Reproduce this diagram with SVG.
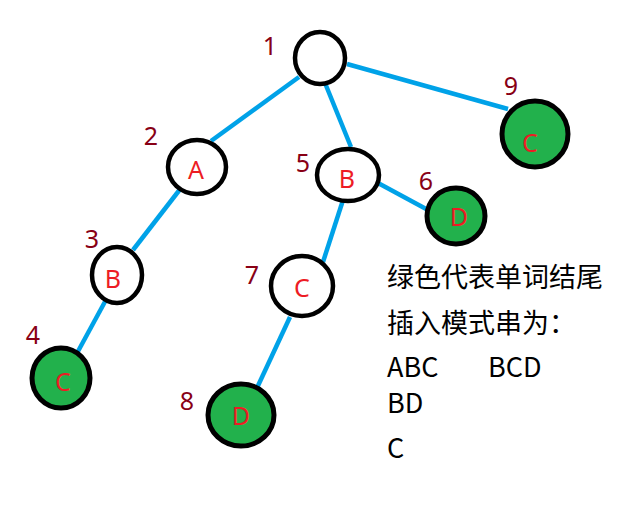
<svg xmlns="http://www.w3.org/2000/svg" width="618" height="507" viewBox="0 0 618 507">
<style>
.edge{stroke:#00A2E8;stroke-width:4.5;stroke-linecap:butt;fill:none}
.n{fill:#fff;stroke:#000;stroke-width:4.5}
.g{fill:#22B14C;stroke:#000;stroke-width:5}
.lt{font-family:"Noto Sans","Noto Sans CJK SC",sans-serif;font-size:25px;fill:#ED1C24;text-anchor:middle}
.num{font-family:"Noto Sans","Noto Sans CJK SC",sans-serif;font-size:25px;fill:#880015;text-anchor:middle}
.txt{font-family:"Noto Sans CJK SC","Noto Sans",sans-serif;font-size:27px;fill:#000}
</style>
<rect width="618" height="507" fill="#fff"/>
<g id="connectors">
<line class="edge" x1="299" y1="77" x2="211" y2="141"/>
<line class="edge" x1="325" y1="83" x2="351" y2="147"/>
<line class="edge" x1="347" y1="64" x2="508" y2="109"/>
<line class="edge" x1="378" y1="183" x2="428" y2="210"/>
<line class="edge" x1="344" y1="197" x2="323" y2="262"/>
<line class="edge" x1="181" y1="188" x2="133" y2="250"/>
<line class="edge" x1="107" y1="298" x2="76" y2="355"/>
<line class="edge" x1="290" y1="317" x2="256" y2="390"/>
</g>
<g id="node1"><ellipse class="n" cx="320" cy="58" rx="25" ry="26"/><text class="num" x="270" y="55">1</text></g>
<g id="node2"><ellipse class="n" cx="197" cy="167" rx="29" ry="27"/><text class="lt" x="196" y="179">A</text><text class="num" x="151" y="145">2</text></g>
<g id="node3"><ellipse class="n" cx="117" cy="275" rx="25" ry="28"/><text class="lt" x="113" y="288">B</text><text class="num" x="92" y="248">3</text></g>
<g id="node4"><ellipse class="g" cx="61" cy="378" rx="29" ry="30"/><text class="lt" x="63" y="391">C</text><text class="num" x="33" y="344">4</text></g>
<g id="node5"><ellipse class="n" cx="348" cy="175" rx="31" ry="26"/><text class="lt" x="347" y="188">B</text><text class="num" x="303" y="172">5</text></g>
<g id="node6"><ellipse class="g" cx="456" cy="216" rx="29" ry="28"/><text class="lt" x="459" y="226">D</text><text class="num" x="426" y="190">6</text></g>
<g id="node7"><ellipse class="n" cx="302" cy="286" rx="31" ry="30"/><text class="lt" x="302" y="297">C</text><text class="num" x="252" y="284">7</text></g>
<g id="node8"><ellipse class="g" cx="241" cy="415" rx="33" ry="31"/><text class="lt" x="241" y="425">D</text><text class="num" x="187" y="410">8</text></g>
<g id="node9"><ellipse class="g" cx="535" cy="134" rx="33" ry="33"/><text class="lt" x="530" y="152">C</text><text class="num" x="511" y="95">9</text></g>
<g id="legend">
<text class="txt" x="387" y="287">绿色代表单词结尾</text>
<text class="txt" x="387" y="333">插入模式串为：</text>
<text class="txt" x="387" y="377">ABC</text>
<text class="txt" x="488" y="377">BCD</text>
<text class="txt" x="387" y="413">BD</text>
<text class="txt" x="387" y="458">C</text>
</g>
</svg>
